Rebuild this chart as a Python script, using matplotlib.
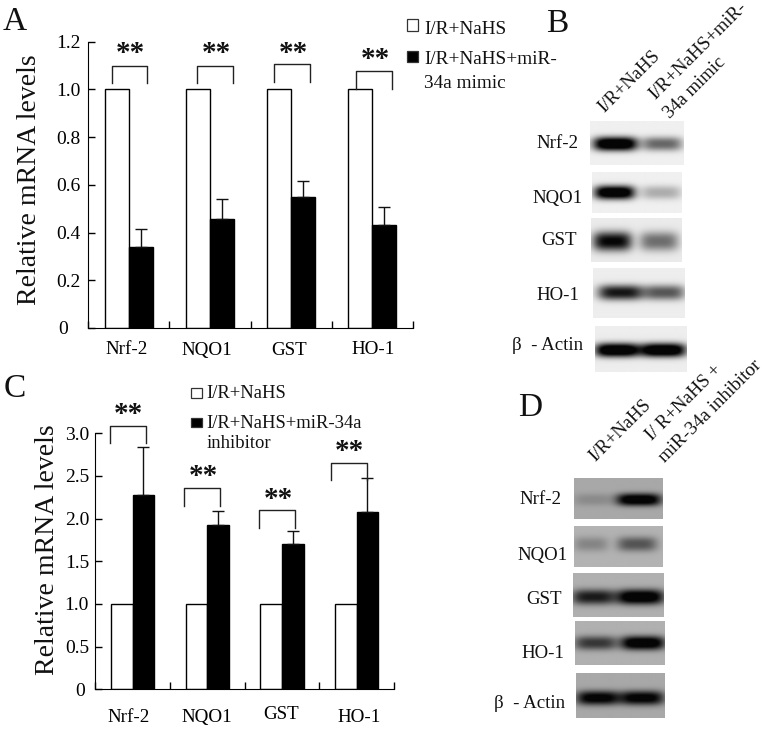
# coding=UTF-8

import numpy as np
import matplotlib
matplotlib.use('Agg')
import matplotlib.pyplot as plt
from matplotlib.patches import Rectangle
from matplotlib.transforms import Affine2D

plt.rcParams['font.family'] = ['Liberation Serif', 'DejaVu Sans']

W = 764
H = 730

categories = ['Nrf-2', 'NQO1', 'GST', 'HO-1']

# panel A values
a_white = [1.0, 1.0, 1.0, 1.0]
a_black = [0.34, 0.455, 0.548, 0.43]
a_err = [0.073, 0.085, 0.069, 0.075]
a_yticks = [0, 0.2, 0.4, 0.6, 0.8, 1.0, 1.2]
a_ylabels = ['0', '0.2', '0.4', '0.6', '0.8', '1.0', '1.2']

# panel C values
c_white = [1.0, 1.0, 1.0, 1.0]
c_black = [2.278, 1.926, 1.707, 2.075]
c_err = [0.567, 0.168, 0.145, 0.398]
c_yticks = [0, 0.5, 1.0, 1.5, 2.0, 2.5, 3.0]
c_ylabels = ['0', '0.5', '1.0', '1.5', '2.0', '2.5', '3.0']

# brackets and stars, data units
a_br_x = [0.01, 1.06, 2.01, 3.02]
a_br_top = [1.098, 1.098, 1.105, 1.075]
a_star_x = [0.026, 1.076, 2.03, 3.04]
a_star_y = [1.169, 1.169, 1.173, 1.144]
c_br_x = [-0.066, 0.929, 1.936, 2.892]
c_br_top = [3.087, 2.356, 2.098, 2.653]
c_star_x = [-0.053, 0.942, 1.946, 2.906]
c_star_y = [3.274, 2.551, 2.286, 2.844]

# band darkness per lane, read from the blots
b_names = ['Nrf-2', 'NQO1', 'GST', 'HO-1', u'β  - Actin']
b_lane1 = [1.0, 0.97, 0.78, 0.72, 1.0]
b_lane2 = [0.45, 0.22, 0.42, 0.5, 1.0]
b_bg = [0.94, 0.94, 0.92, 0.93, 0.93]
d_names = ['Nrf-2', 'NQO1', 'GST', 'HO-1', u'β  - Actin']
d_lane1 = [0.14, 0.2, 0.68, 0.55, 0.85]
d_lane2 = [0.95, 0.42, 0.95, 0.95, 0.85]
d_bg = [0.66, 0.7, 0.69, 0.69, 0.66]


def fx(px):
    return px / float(W)


def fy(py):
    return 1 - py / float(H)


fig = plt.figure(figsize=(W / 100.0, H / 100.0), dpi=100)


def label(px, py, s, size=13.6, **kw):
    kw.setdefault('ha', 'center')
    kw.setdefault('va', 'center')
    fig.text(fx(px), fy(py), s, fontsize=size, color='#111111', **kw)


def square(x0, y0, x1, y1, face):
    fig.add_artist(Rectangle((fx(x0), fy(y1)), (x1 - x0) / float(W), (y1 - y0) / float(H),
                             transform=fig.transFigure, facecolor=face,
                             edgecolor='#333333', linewidth=0.9))


def bar_panel(box, ymax, white, black, err, yticks, ylabels, width, pads, zero_pad,
              br_x, br_top, br_half, br_leg, star_x, star_y, shifts):
    left, top, right, bottom = box
    ax = fig.add_axes([fx(left), fy(bottom), (right - left) / float(W), (bottom - top) / float(H)])
    x = np.arange(len(categories))
    ax.bar(x - width / 2, white, width, color='white', edgecolor='black', linewidth=1.0)
    ax.bar(x + width / 2, black, width, color='black', edgecolor='black', linewidth=1.0,
           yerr=[np.zeros(len(err)), err], error_kw=dict(ecolor='#111111', elinewidth=1.0,
                                                         capsize=4, capthick=1.0))
    ax.set_xlim(-0.5, 3.5)
    ax.set_ylim(0, ymax)
    ax.spines['top'].set_visible(False)
    ax.spines['right'].set_visible(False)
    ax.set_yticks(yticks)
    ax.set_yticklabels(ylabels, fontsize=14)
    ax.tick_params(axis='y', direction='in', length=5, width=1.0, pad=pads)
    ax.yaxis.get_major_ticks()[0].set_pad(zero_pad)
    ax.set_xticks(np.arange(-0.5, 4, 1))
    ax.set_xticklabels([])
    ax.tick_params(axis='x', which='major', direction='in', length=5, width=1.0)
    ax.set_xticks(x, minor=True)
    ax.set_xticklabels(categories, minor=True, fontsize=13.7)
    ax.tick_params(axis='x', which='minor', length=0, pad=8)
    for lab, (dx, dy) in zip(ax.get_xticklabels(minor=True), shifts):
        lab.set_transform(lab.get_transform() + Affine2D().translate(dx, dy))
    for xc, yt, xs, ys in zip(br_x, br_top, star_x, star_y):
        ax.plot([xc - br_half, xc - br_half, xc + br_half, xc + br_half],
                [yt - br_leg, yt, yt, yt - br_leg], color='#222222', lw=1.0, clip_on=False)
        ax.annotate('**', xy=(xs, ys), xytext=(0, -3.6), textcoords='offset points',
                    ha='center', va='center', fontsize=21, fontweight='bold', color='#111111',
                    annotation_clip=False)
    return ax


def blot(box, bg, d1, d2, c1, c2, hw1, hw2, yc, hh):
    left, top, right, bottom = box
    ax = fig.add_axes([fx(left), fy(bottom), (right - left) / float(W), (bottom - top) / float(H)])
    nx = int(right - left) * 2
    ny = int(bottom - top) * 2
    xx, yy = np.meshgrid(np.linspace(0, 1, nx), np.linspace(0, 1, ny))
    shape1 = np.exp(-np.abs((xx - c1) / (hw1 * 1.08)) ** 4) * np.exp(-np.abs((yy - yc) / hh) ** 2.4)
    shape2 = np.exp(-np.abs((xx - c2) / (hw2 * 1.08)) ** 4) * np.exp(-np.abs((yy - yc) / hh) ** 2.4)
    dark = np.clip(1.3 * d1 * shape1 + 1.3 * d2 * shape2, 0, 1)
    img = bg * (1 - dark) + 0.02 * dark
    ax.imshow(img, cmap='gray', vmin=0, vmax=1, aspect='auto', interpolation='bilinear')
    ax.axis('off')


# panel A
bar_panel((88, 41.6, 413, 328), 1.2, a_white, a_black, a_err, a_yticks, a_ylabels, 0.295,
          5.5, 14.5, a_br_x, a_br_top, 0.22, 0.073, a_star_x, a_star_y,
          [(-2, -2), (-3, -3), (-2, -3), (1, -2)])
# panel C
bar_panel((95.3, 433.3, 394, 689.3), 3.0, c_white, c_black, c_err, c_yticks, c_ylabels, 0.29,
          4.5, 7.5, c_br_x, c_br_top, 0.241, 0.203, c_star_x, c_star_y,
          [(-4, -9), (0, -9), (-1, -6), (2, -9)])

label(30, 180, 'Relative mRNA levels', size=20, rotation=90)
label(48, 550, 'Relative mRNA levels', size=20, rotation=90)

label(3, 30, 'A', size=24, ha='left', va='baseline')
label(4, 396.7, 'C', size=24, ha='left', va='baseline')
label(546, 32, 'B', size=24, ha='left', va='baseline')
label(518, 415.7, 'D', size=24, ha='left', va='baseline')

# legends
square(406.7, 19, 418.3, 31, 'white')
square(406.7, 50.7, 418.3, 62.3, 'black')
label(424, 29, 'I/R+NaHS', size=13.9, ha='left')
label(424, 60, 'I/R+NaHS+miR-', size=13.9, ha='left')
label(424, 84, '34a mimic', size=13.9, ha='left')

square(191, 387.7, 201.7, 398.3, 'white')
square(191, 417.7, 201.7, 427.3, 'black')
label(206.7, 394, 'I/R+NaHS', size=13.4, ha='left')
label(206.7, 423, 'I/R+NaHS+miR-34a', size=13.4, ha='left')
label(206.7, 443.7, 'inhibitor', size=13.4, ha='left')

# blots B
b_boxes = [(590.3, 120.7, 683.7, 164.7), (592, 172.3, 681.3, 213.3), (591.3, 218.3, 682, 262.3),
           (592.7, 268.3, 684.7, 318.3), (594.7, 325.7, 685.7, 372.3)]
b_c1 = [0.27, 0.25, 0.235, 0.30, 0.24]
b_c2 = [0.77, 0.77, 0.75, 0.775, 0.74]
b_hw1 = [0.22, 0.21, 0.2, 0.23, 0.225]
b_hw2 = [0.2, 0.21, 0.2, 0.21, 0.235]
b_yc = [0.52, 0.5, 0.53, 0.5, 0.535]
b_hh = [0.16, 0.17, 0.22, 0.15, 0.15]
for i in range(5):
    blot(b_boxes[i], b_bg[i], b_lane1[i], b_lane2[i], b_c1[i], b_c2[i], b_hw1[i], b_hw2[i],
         b_yc[i], b_hh[i])

# blots D
d_boxes = [(574, 478, 662.7, 519.3), (574, 526, 662.7, 566.7), (573.3, 572.7, 664, 617),
           (574.7, 621.3, 664.3, 665.3), (575.7, 673.3, 664, 718.3)]
d_c1 = [0.22, 0.19, 0.225, 0.23, 0.245]
d_c2 = [0.73, 0.71, 0.74, 0.755, 0.74]
d_hw1 = [0.21, 0.18, 0.22, 0.22, 0.225]
d_hw2 = [0.235, 0.21, 0.245, 0.23, 0.235]
d_yc = [0.54, 0.44, 0.556, 0.5, 0.555]
d_hh = [0.15, 0.18, 0.17, 0.16, 0.16]
for i in range(5):
    blot(d_boxes[i], d_bg[i], d_lane1[i], d_lane2[i], d_c1[i], d_c2[i], d_hw1[i], d_hw2[i],
         d_yc[i], d_hh[i])

# blot row names
b_name_x = [557, 558, 559, 558, 548]
b_name_y = [143, 198, 240.7, 295, 345.7]
d_name_x = [540, 542.7, 544, 542.7, 530]
d_name_y = [500, 555.7, 599, 653.3, 704]
for i in range(5):
    label(b_name_x[i], b_name_y[i], b_names[i])
    label(d_name_x[i], d_name_y[i], d_names[i])

# slanted lane headers
label(629.5, 81.5, 'I/R+NaHS', size=13.4, rotation=45, rotation_mode='anchor')
label(698, 51, 'I/R+NaHS+miR-', size=13.6, rotation=45, rotation_mode='anchor')
label(695, 88, '34a mimic', size=13.4, rotation=45, rotation_mode='anchor')
label(620, 431, 'I/R+NaHS', size=13.4, rotation=45, rotation_mode='anchor')
label(683.5, 403, 'I/ R+NaHS +', size=13.4, rotation=45, rotation_mode='anchor')
label(710, 411, 'miR-34a inhibitor', size=13.8, rotation=45, rotation_mode='anchor')

plt.savefig('out.png', dpi=100)
